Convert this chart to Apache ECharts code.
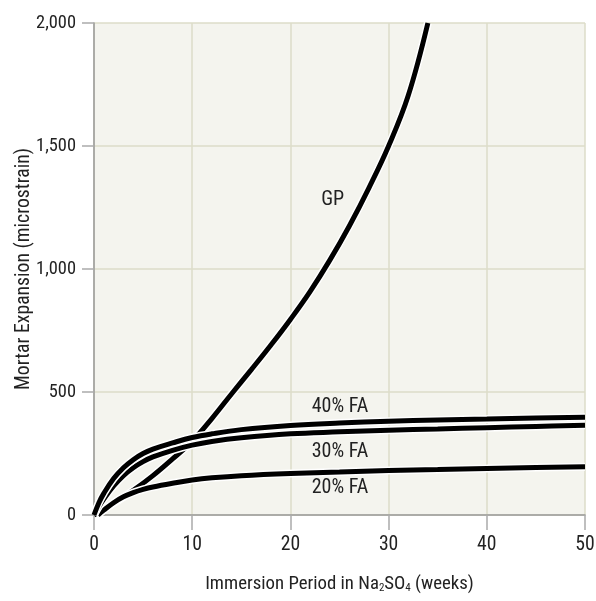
<!DOCTYPE html>
<html>
<head>
<meta charset="utf-8">
<script src="https://cdn.jsdelivr.net/npm/echarts@6/dist/echarts.min.js"></script>
<style>
html,body{margin:0;padding:0;background:#fff;}
#chart{width:596px;height:601px;}
</style>
</head>
<body>
<div id="chart"></div>
<script>
// ---- data ----
const weeksGP = [0, 2, 4, 6, 8, 10, 12, 14, 16, 18, 20, 22, 24, 26, 28, 30, 32, 34];
const gp      = [0, 48, 100, 160, 228, 300, 392, 492, 590, 690, 795, 908, 1035, 1175, 1330, 1500, 1705, 2000];

const weeksFA = [0, 0.5, 1, 2, 3, 4, 5, 6, 8, 10, 12, 15, 20, 25, 30, 35, 40, 45, 50];
const fa40    = [0, 50, 88, 148, 192, 225, 250, 268, 293, 315, 330, 347, 364, 374, 381, 386, 390, 394, 397];
const fa30    = [0, 35, 65, 118, 160, 192, 217, 236, 263, 284, 299, 314, 330, 338, 345, 350, 355, 360, 365];

const weeks20 = [0.4, 1, 2, 3, 4, 5, 6, 8, 10, 12, 15, 20, 25, 30, 35, 40, 45, 50];
const fa20    = [0, 20, 50, 74, 91, 104, 114, 129, 142, 151, 160, 169, 175, 181, 185, 189, 193, 196];

const yTicks = [0, 500, 1000, 1500, 2000];
const xTicks = [0, 10, 20, 30, 40, 50];

const labelPos = { 'GP': [24.3, 1280], '40% FA': [25.05, 440], '30% FA': [25.05, 257], '20% FA': [25.05, 110] };

// ---- font choice: narrowest installed sans ----
const ctx = document.createElement('canvas').getContext('2d');
function widthOf(str, size, fam) { ctx.font = size + 'px ' + fam; return ctx.measureText(str).width; }
function installed(f) {
  const s = 'Mortar Expansion 0123456789';
  return widthOf(s, 40, '"' + f + '", monospace') !== widthOf(s, 40, 'monospace') ||
         widthOf(s, 40, '"' + f + '", serif') !== widthOf(s, 40, 'serif');
}
const candidates = ['Liberation Sans Narrow', 'DejaVu Sans Condensed', 'Roboto Condensed',
                    'Noto Sans Condensed', 'Open Sans Condensed', 'Roboto', 'Liberation Sans'];
let best = 'sans-serif', bestW = Infinity;
candidates.forEach(f => {
  if (installed(f)) {
    const w = widthOf('Mortar Expansion (microstrain)', 20, '"' + f + '"');
    if (w < bestW) { bestW = w; best = '"' + f + '"'; }
  }
});
const FONT = best + ', sans-serif';
function fitSize(str, ideal, target) {
  const w = widthOf(str, ideal, FONT);
  const s = ideal * Math.min(1, target / w);
  return Math.max(ideal * 0.82, Math.round(s * 10) / 10);
}
const yNameSize = fitSize('Mortar Expansion (microstrain)', 20, 242);
const xNameSize = fitSize('Immersion Period in Na2SO4 (weeks)', 22, 276);
const yLabSize = fitSize('2,000', 21, 40);
const xLabSize = fitSize('50', 24, 19);
const curveLabSize = fitSize('40% FA', 20, 57);

// ---- build ----
const pairs = (xs, ys) => xs.map((x, i) => [x, ys[i]]);
const curves = [
  { name: 'GP', data: pairs(weeksGP, gp) },
  { name: '20% FA', data: pairs(weeks20, fa20) },
  { name: '30% FA', data: pairs(weeksFA, fa30) },
  { name: '40% FA', data: pairs(weeksFA, fa40) }
];

const series = [];
curves.forEach(c => {
  series.push({
    type: 'line', name: c.name + ' halo', data: c.data, smooth: 0.4,
    showSymbol: false, silent: true, clip: true,
    lineStyle: { color: '#ffffff', width: 8 }
  });
  series.push({
    type: 'line', name: c.name, data: c.data, smooth: 0.4,
    showSymbol: false, silent: true, clip: true,
    lineStyle: { color: '#000000', width: 5 },
    markPoint: {
      symbol: 'circle', symbolSize: 0, silent: true,
      data: [{ coord: labelPos[c.name], value: c.name }],
      label: { show: true, position: 'inside', formatter: c.name,
               fontFamily: FONT, fontSize: curveLabSize, color: '#222' }
    }
  });
});

const subSize = Math.round(xNameSize * 0.6);
const chart = echarts.init(document.getElementById('chart'), null, { renderer: 'canvas' });
chart.setOption({
  animation: false,
  backgroundColor: '#ffffff',
  grid: { left: 94, right: 11, top: 23, bottom: 86, show: true, outerBoundsMode: 'none',
          containLabel: false, backgroundColor: '#f4f4ee', borderWidth: 0 },
  xAxis: {
    type: 'value', min: xTicks[0], max: xTicks[xTicks.length - 1], interval: 10,
    name: 'Immersion Period in Na{sub|2}SO{sub|4} (weeks)',
    nameLocation: 'middle', nameGap: 60,
    nameTextStyle: {
      fontFamily: FONT, fontSize: xNameSize, lineHeight: xNameSize, color: '#222',
      rich: { sub: { fontFamily: FONT, fontSize: subSize, lineHeight: 6, color: '#222',
                     verticalAlign: 'bottom' } }
    },
    axisLine: { show: true, onZero: false, lineStyle: { color: '#999', width: 1.5 } },
    axisTick: { show: true, length: 15, lineStyle: { color: '#aaa', width: 1.5 } },
    axisLabel: { fontFamily: FONT, fontSize: xLabSize, color: '#222', margin: 20 },
    splitLine: { show: true, lineStyle: { color: '#dcdcc8', width: 1.5 } }
  },
  yAxis: {
    type: 'value', min: yTicks[0], max: yTicks[yTicks.length - 1], interval: 500,
    name: 'Mortar Expansion (microstrain)',
    nameLocation: 'middle', nameGap: 60, nameMoveOverlap: false,
    nameTextStyle: { fontFamily: FONT, fontSize: yNameSize, color: '#222' },
    axisLine: { show: true, lineStyle: { color: '#999', width: 1.5 } },
    axisTick: { show: true, length: 12, lineStyle: { color: '#aaa', width: 1.5 } },
    axisLabel: { fontFamily: FONT, fontSize: yLabSize, color: '#222', margin: 18,
                 formatter: v => v.toLocaleString('en-US') },
    splitLine: { show: true, lineStyle: { color: '#dcdcc8', width: 1.5 } }
  },
  series: series
});
</script>
</body>
</html>
